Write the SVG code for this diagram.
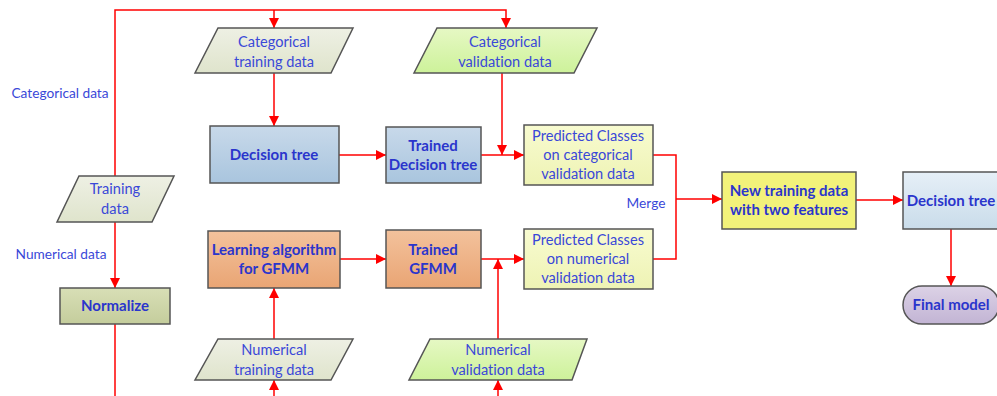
<svg xmlns="http://www.w3.org/2000/svg" width="997" height="396" viewBox="0 0 997 396">
<defs>
<linearGradient id="gBeige" x1="0" y1="0" x2="0" y2="1"><stop offset="0" stop-color="#eef0e4"/><stop offset="1" stop-color="#dfe4cc"/></linearGradient>
<linearGradient id="gGreen" x1="0" y1="0" x2="0" y2="1"><stop offset="0" stop-color="#e6f8c4"/><stop offset="1" stop-color="#cdf29a"/></linearGradient>
<linearGradient id="gBlue" x1="0" y1="0" x2="0" y2="1"><stop offset="0" stop-color="#c8d9ea"/><stop offset="1" stop-color="#a9c5de"/></linearGradient>
<linearGradient id="gOrange" x1="0" y1="0" x2="0" y2="1"><stop offset="0" stop-color="#f3c29c"/><stop offset="1" stop-color="#e9a574"/></linearGradient>
<linearGradient id="gPred" x1="0" y1="0" x2="0" y2="1"><stop offset="0" stop-color="#f8fbd0"/><stop offset="1" stop-color="#eef3b4"/></linearGradient>
<linearGradient id="gNorm" x1="0" y1="0" x2="0" y2="1"><stop offset="0" stop-color="#d8dfb6"/><stop offset="1" stop-color="#c4cd9c"/></linearGradient>
<linearGradient id="gLight" x1="0" y1="0" x2="0" y2="1"><stop offset="0" stop-color="#e6eff7"/><stop offset="1" stop-color="#c9dcea"/></linearGradient>
<linearGradient id="gLav" x1="0" y1="0" x2="0" y2="1"><stop offset="0" stop-color="#dcd2e6"/><stop offset="1" stop-color="#c2b4d4"/></linearGradient>
<marker id="ar" viewBox="0 0 10 10" refX="10" refY="5" markerWidth="10" markerHeight="10" markerUnits="userSpaceOnUse" orient="auto">
<path d="M0,0 L10,5 L0,10 z" fill="#ff0000"/>
</marker>
</defs>
<style>
.n{stroke:#555;stroke-width:1.5}
.c{fill:none;stroke:#ff0000;stroke-width:1.5}
.t{font-family:Lato,"Open Sans","Liberation Sans",sans-serif;font-size:14.6px;fill:#3a48d8;text-anchor:middle;font-variant-ligatures:none}
.b{font-family:Lato,"Open Sans","Liberation Sans",sans-serif;font-size:15px;font-weight:bold;fill:#2a35cc;text-anchor:middle;font-variant-ligatures:none}
.l{font-family:Lato,"Open Sans","Liberation Sans",sans-serif;font-size:13.7px;fill:#3a48d8;text-anchor:middle;font-variant-ligatures:none}
</style>
<rect width="997" height="396" fill="#ffffff"/>
<g id="connectors">
<path class="c" d="M115,176 V10 H506 V28" marker-end="url(#ar)"/>
<path class="c" d="M274,10 V28" marker-end="url(#ar)"/>
<path class="c" d="M274,73 V126" marker-end="url(#ar)"/>
<path class="c" d="M339,155 H386" marker-end="url(#ar)"/>
<path class="c" d="M481,155 H524" marker-end="url(#ar)"/>
<path class="c" d="M502,73 V155" marker-end="url(#ar)"/>
<path class="c" d="M115,222 V288" marker-end="url(#ar)"/>
<path class="c" d="M115,324 V396"/>
<path class="c" d="M274,396 V380" marker-end="url(#ar)"/>
<path class="c" d="M274,339 V288" marker-end="url(#ar)"/>
<path class="c" d="M340,259 H386" marker-end="url(#ar)"/>
<path class="c" d="M481,259 H524" marker-end="url(#ar)"/>
<path class="c" d="M498,339 V259" marker-end="url(#ar)"/>
<path class="c" d="M498,396 V380" marker-end="url(#ar)"/>
<path class="c" d="M653,155 H676 V259 H653"/>
<path class="c" d="M676,199 H722" marker-end="url(#ar)"/>
<path class="c" d="M856,200 H903" marker-end="url(#ar)"/>
<path class="c" d="M951,229 V286" marker-end="url(#ar)"/>
<text class="l" x="60" y="98">Categorical data</text>
<text class="l" x="61" y="259">Numerical data</text>
<text class="l" x="646" y="208">Merge</text>
</g>
<g id="cat-train">
<polygon class="n" points="218,28 353,28 331,73 195,73" fill="url(#gBeige)"/>
<text class="t" x="274" y="47">Categorical</text>
<text class="t" x="274" y="67">training data</text>
</g>
<g id="cat-val">
<polygon class="n" points="437,28 597,28 574,73 414,73" fill="url(#gGreen)"/>
<text class="t" x="505" y="47">Categorical</text>
<text class="t" x="505" y="67">validation data</text>
</g>
<g id="training">
<polygon class="n" points="79,176 174,176 152,222 57,222" fill="url(#gBeige)"/>
<text class="t" x="115" y="194">Training</text>
<text class="t" x="115" y="214">data</text>
</g>
<g id="dtree">
<rect class="n" x="210" y="126" width="129" height="57" fill="url(#gBlue)"/>
<text class="b" x="274" y="160">Decision tree</text>
</g>
<g id="trained-dt">
<rect class="n" x="386" y="127" width="95" height="56" fill="url(#gBlue)"/>
<text class="b" x="433" y="151">Trained</text>
<text class="b" x="433" y="170">Decision tree</text>
</g>
<g id="pred-cat">
<rect class="n" x="524" y="125" width="129" height="60" fill="url(#gPred)"/>
<text class="t" x="588" y="141">Predicted Classes</text>
<text class="t" x="588" y="160">on categorical</text>
<text class="t" x="588" y="179">validation data</text>
</g>
<g id="normalize">
<rect class="n" x="60" y="288" width="110" height="36" fill="url(#gNorm)"/>
<text class="b" x="115" y="311">Normalize</text>
</g>
<g id="learn">
<rect class="n" x="208" y="231" width="132" height="57" fill="url(#gOrange)"/>
<text class="b" x="274" y="255">Learning algorithm</text>
<text class="b" x="274" y="274">for GFMM</text>
</g>
<g id="trained-gfmm">
<rect class="n" x="386" y="230" width="95" height="58" fill="url(#gOrange)"/>
<text class="b" x="433" y="255">Trained</text>
<text class="b" x="433" y="274">GFMM</text>
</g>
<g id="pred-num">
<rect class="n" x="524" y="229" width="129" height="60" fill="url(#gPred)"/>
<text class="t" x="588" y="245">Predicted Classes</text>
<text class="t" x="588" y="264">on numerical</text>
<text class="t" x="588" y="283">validation data</text>
</g>
<g id="num-train">
<polygon class="n" points="218,339 353,339 331,380 195,380" fill="url(#gBeige)"/>
<text class="t" x="274" y="355">Numerical</text>
<text class="t" x="274" y="375">training data</text>
</g>
<g id="num-val">
<polygon class="n" points="430,339 587,339 572,380 409,380" fill="url(#gGreen)"/>
<text class="t" x="498" y="355">Numerical</text>
<text class="t" x="498" y="375">validation data</text>
</g>
<g id="new-data">
<rect class="n" x="722" y="172" width="134" height="57" fill="#f2f27a"/>
<text class="b" x="789" y="196">New training data</text>
<text class="b" x="789" y="215">with two features</text>
</g>
<g id="dtree2">
<rect class="n" x="903" y="172" width="97" height="57" fill="url(#gLight)"/>
<text class="b" x="951" y="206">Decision tree</text>
</g>
<g id="final">
<rect class="n" x="903" y="286" width="96" height="38" rx="19" ry="19" fill="url(#gLav)"/>
<text class="b" x="951" y="310">Final model</text>
</g>
</svg>
